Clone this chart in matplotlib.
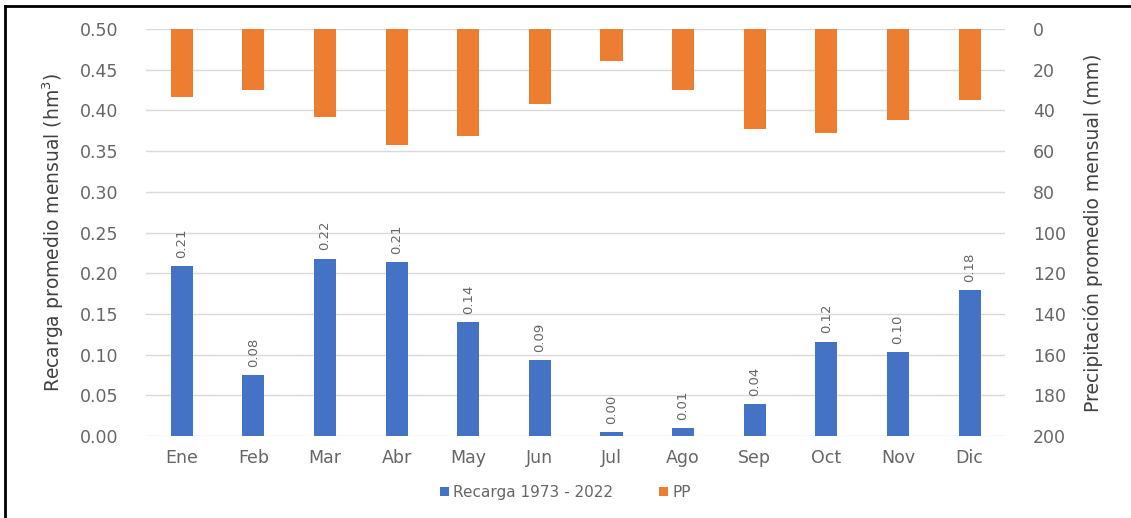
import numpy as np
import matplotlib.pyplot as plt
from matplotlib.lines import Line2D

plt.rcParams['font.family'] = ['DejaVu Sans']

# datos
meses = ["Ene", "Feb", "Mar", "Abr", "May", "Jun", "Jul", "Ago", "Sep", "Oct", "Nov", "Dic"]
recarga = [0.209, 0.075, 0.218, 0.214, 0.140, 0.093, 0.005, 0.010, 0.039, 0.116, 0.103, 0.179]
etiquetas_recarga = ["0.21", "0.08", "0.22", "0.21", "0.14", "0.09", "0.00", "0.01", "0.04", "0.12", "0.10", "0.18"]
pp = [33.5, 30, 43, 57, 52.5, 37, 15.5, 30, 49, 51, 44.5, 35]

azul = "#4472C4"
naranja = "#ED7D31"
gris = "#666666"

fig = plt.figure(figsize=(11.31, 5.18), dpi=100)
ax = fig.add_axes([0.129, 0.158, 0.760, 0.786])
ax2 = ax.twinx()

x = np.arange(len(meses))
ax.bar(x, recarga, width=0.31, color=azul, label="Recarga 1973 - 2022", zorder=3)
ax2.bar(x, pp, width=0.31, color=naranja, label="PP", zorder=3)

# etiquetas de datos verticales
for xi, v, t in zip(x, recarga, etiquetas_recarga):
    ax.annotate(t, (xi, v), xytext=(0, 6), textcoords="offset points",
                rotation=90, ha="center", va="bottom", fontsize=9.5, color=gris)

ax.set_ylim(0, 0.5)
ax.set_yticks(np.arange(0, 0.501, 0.05))
ax.set_yticklabels([f"{v:.2f}" for v in np.arange(0, 0.501, 0.05)])
ax.set_xlim(-0.5, len(meses) - 0.5)
ax.set_xticks(x)
ax.set_xticklabels(meses)
ax.grid(axis="y", color="#D9D9D9", linewidth=1, zorder=0)

ax2.set_ylim(200, 0)
ax2.set_yticks(np.arange(0, 201, 20))

for a in (ax, ax2):
    for s in a.spines.values():
        s.set_visible(False)
    a.tick_params(length=0, labelsize=12.5, labelcolor=gris)
ax.tick_params(axis="x", labelsize=12.5, pad=9)
ax.tick_params(axis="y", pad=20)
ax2.tick_params(axis="y", pad=20)

ax.set_ylabel("Recarga promedio mensual (hm$^3$)", fontsize=13.5, color="#404040", labelpad=10)
ax2.set_ylabel("Precipitación promedio mensual (mm)", fontsize=13.5, color="#404040", labelpad=12)

h1, l1 = ax.get_legend_handles_labels()
h2, l2 = ax2.get_legend_handles_labels()
fig.legend(h1 + h2, l1 + l2, loc="center", bbox_to_anchor=(0.50, 0.05), ncol=2, frameon=False,
           fontsize=11, handlelength=0.55, handleheight=0.55, handletextpad=0.3, columnspacing=3.0,
           labelcolor=gris)

# marco exterior (solo bordes izquierdo y superior visibles)
fig.add_artist(Line2D([0.0045, 0.0045], [0.0, 0.989], transform=fig.transFigure, color="black", linewidth=2))
fig.add_artist(Line2D([0.0045, 1.0], [0.989, 0.989], transform=fig.transFigure, color="black", linewidth=2))

fig.savefig("out.png", dpi=100)
